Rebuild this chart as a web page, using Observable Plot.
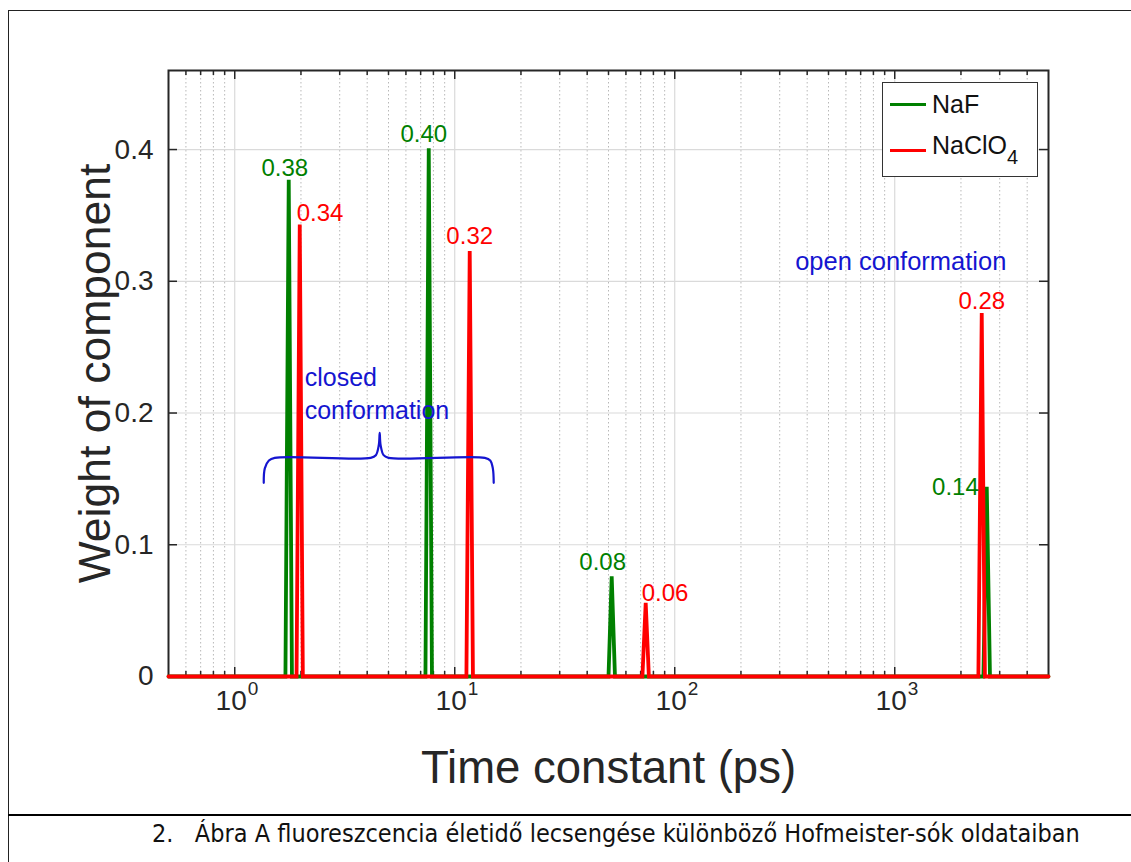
<!DOCTYPE html>
<html><head><meta charset="utf-8">
<script src="https://cdn.jsdelivr.net/npm/d3@7"></script>
<script src="https://cdn.jsdelivr.net/npm/@observablehq/plot@0.6"></script>
<style>
body{margin:0;background:#fff;width:1131px;height:862px;overflow:hidden;position:relative;font-family:"Liberation Sans",Arial,sans-serif;}
#chart{position:absolute;left:0;top:0;}
.rl{position:absolute;background:#222;}
#legend{position:absolute;left:882px;top:82px;width:156px;height:95px;border:1.5px solid #333;background:#fff;box-sizing:border-box;font-size:25px;color:#111;}
#legend .row{position:absolute;left:7px;height:30px;display:flex;align-items:center;}
#legend .sw{display:inline-block;width:36px;height:3px;margin-right:6px;}
#caption{position:absolute;top:816px;left:152px;font-family:"Liberation Sans Narrow","DejaVu Sans",sans-serif;font-stretch:condensed;font-size:25px;color:#111;white-space:pre;line-height:36px;}
</style></head>
<body>
<div id="chart"></div>
<div class="rl" style="left:8px;top:10px;width:1123px;height:1px"></div>
<div class="rl" style="left:8px;top:10px;width:1px;height:852px"></div>
<div class="rl" style="left:8px;top:814px;width:1123px;height:2px;background:#000"></div>
<div id="legend">
  <div class="row" style="top:6px"><span class="sw" style="background:#008000"></span><span>NaF</span></div>
  <div class="row" style="top:52px"><span class="sw" style="background:#ff0000"></span><span>NaClO<sub style="font-size:20px;vertical-align:-10px">4</sub></span></div>
</div>
<div id="caption">2.   Ábra A fluoreszcencia életidő lecsengése különböző Hofmeister-sók oldataiban</div>
<script>
// ---- data ----
const nafTau    = [0.5, 1.70, 1.76, 1.82, 7.36, 7.62, 7.88, 50.0, 51.7, 53.5, 2530, 2620, 2710, 5000];
const nafWeight = [0,   0,    0.377, 0,   0,    0.401, 0,   0,    0.076, 0,   0,    0.144, 0,    0];
const clo4Tau    = [0.5, 1.91, 1.975, 2.04, 11.3, 11.7, 12.1, 71.3, 73.8, 76.3, 2400, 2486, 2570, 5000];
const clo4Weight = [0,   0,    0.343, 0,    0,    0.323, 0,   0,    0.056, 0,   0,    0.276, 0,    0];

const peakSeries = ["NaF","NaF","NaF","NaF","NaClO4","NaClO4","NaClO4","NaClO4"];
const peakTau    = [1.76, 7.62, 51.7, 2620, 1.975, 11.7, 73.8, 2486];
const peakWeight = [0.377, 0.401, 0.076, 0.144, 0.343, 0.323, 0.056, 0.276];
const peakLabel  = ["0.38","0.40","0.08","0.14","0.34","0.32","0.06","0.28"];

const decadeTicks = [1, 10, 100, 1000];
const decadeExp   = ["0", "1", "2", "3"];
const minorTicks  = [0.6,0.7,0.8,0.9, 2,3,4,5,6,7,8,9, 20,30,40,50,60,70,80,90, 200,300,400,500,600,700,800,900, 2000,3000,4000];
const yTicks      = [0, 0.1, 0.2, 0.3, 0.4];
const yTickLabels = ["0", "0.1", "0.2", "0.3", "0.4"];

const braceTau    = [1.355, 1.37, 1.43, 1.52, 4.15, 4.38, 4.52, 4.56, 4.60, 4.75, 5.0, 13.7, 14.5, 14.9, 15.04];
const braceWeight = [0.147, 0.158, 0.164, 0.166, 0.166, 0.168, 0.176, 0.185, 0.176, 0.168, 0.166, 0.166, 0.164, 0.158, 0.147];

const closedNote = [{text: "closed", tau: 2.08, w: 0.2265}, {text: "conformation", tau: 2.08, w: 0.2015}];
const openNote   = [{text: "open conformation", tau: 1065, w: 0.315}];

// ---- styles ----
const colors = {NaF: "#008000", NaClO4: "#ff0000"};
const labelStyle = {
  "0.38": {dx: -4, dy: -4, anchor: "middle"},
  "0.40": {dx: -5, dy: -6, anchor: "middle"},
  "0.08": {dx: -9, dy: -6, anchor: "middle"},
  "0.14": {dx: -8, dy: 1, anchor: "end", line: "middle"},
  "0.34": {dx: -3, dy: -4, anchor: "start"},
  "0.32": {dx: 0, dy: -7, anchor: "middle"},
  "0.06": {dx: -4, dy: -2, anchor: "start"},
  "0.28": {dx: 0, dy: -4, anchor: "middle"}
};

const naf = nafTau.map((t, i) => ({series: "NaF", tau: t, w: nafWeight[i]}));
const clo4 = clo4Tau.map((t, i) => ({series: "NaClO4", tau: t, w: clo4Weight[i]}));
const peaks = peakTau.map((t, i) => ({series: peakSeries[i], tau: t, w: peakWeight[i], label: peakLabel[i]}));
const brace = braceTau.map((t, i) => ({tau: t, w: braceWeight[i]}));
const decades = decadeTicks.map((t, i) => ({tau: t, exp: decadeExp[i]}));
const yt = yTicks.map((v, i) => ({w: v, label: yTickLabels[i]}));

const W = 1131, H = 800, mL = 168, mR = 83, mT = 70, mB = 124;
const frameH = H - mT - mB, frameW = W - mL - mR;
const font = "Liberation Sans, Arial, sans-serif";
const blue = "#1515d0";

const peakLabelMarks = peaks.map(p => {
  const s = labelStyle[p.label];
  return Plot.text([p], {x: "tau", y: "w", text: "label", fill: colors[p.series], fontSize: 24,
    textAnchor: s.anchor, lineAnchor: s.line || "bottom", dx: s.dx, dy: s.dy});
});

const plot = Plot.plot({
  width: W, height: H,
  marginLeft: mL, marginRight: mR, marginTop: mT, marginBottom: mB,
  style: {fontFamily: font, background: "white", overflow: "visible"},
  x: {type: "log", domain: [0.5, 5000], axis: null},
  y: {domain: [0, 0.46], axis: null},
  marks: [
    // grid
    Plot.ruleX(minorTicks, {stroke: "#b8b8b8", strokeWidth: 1, strokeDasharray: "1.5,2.5"}),
    Plot.ruleX(decadeTicks, {stroke: "#dadada", strokeWidth: 1.2}),
    Plot.ruleY(yTicks, {stroke: "#dadada", strokeWidth: 1.2}),
    // ticks (inward)
    Plot.ruleX(minorTicks, {stroke: "#262626", strokeWidth: 1.5, insetTop: frameH - 5}),
    Plot.ruleX(minorTicks, {stroke: "#262626", strokeWidth: 1.5, insetBottom: frameH - 5}),
    Plot.ruleX(decadeTicks, {stroke: "#262626", strokeWidth: 1.5, insetTop: frameH - 9}),
    Plot.ruleX(decadeTicks, {stroke: "#262626", strokeWidth: 1.5, insetBottom: frameH - 9}),
    Plot.ruleY(yTicks, {stroke: "#262626", strokeWidth: 1.5, insetRight: frameW - 9}),
    Plot.ruleY(yTicks, {stroke: "#262626", strokeWidth: 1.5, insetLeft: frameW - 9}),
    // frame
    Plot.frame({stroke: "#262626", strokeWidth: 2}),
    // data
    Plot.line(naf, {x: "tau", y: "w", stroke: colors.NaF, strokeWidth: 3.8, strokeLinejoin: "miter", strokeMiterlimit: 3}),
    Plot.line(clo4, {x: "tau", y: "w", stroke: colors.NaClO4, strokeWidth: 3.8, strokeLinejoin: "miter", strokeMiterlimit: 3}),
    // value labels
    ...peakLabelMarks,
    // annotations
    Plot.line(brace, {x: "tau", y: "w", stroke: blue, strokeWidth: 2.2, curve: "catmull-rom"}),
    Plot.text(closedNote, {x: "tau", y: "w", text: "text", fill: blue, fontSize: 25, textAnchor: "start", lineAnchor: "middle"}),
    Plot.text(openNote, {x: "tau", y: "w", text: "text", fill: blue, fontSize: 25.5, textAnchor: "middle", lineAnchor: "middle"}),
    // tick labels
    Plot.text(decades, {x: "tau", text: () => "10", frameAnchor: "bottom", textAnchor: "end", dx: 12, dy: 25, fontSize: 28, fill: "#262626", lineAnchor: "middle"}),
    Plot.text(decades, {x: "tau", text: "exp", frameAnchor: "bottom", textAnchor: "start", dx: 13, dy: 12, fontSize: 19, fill: "#262626", lineAnchor: "middle"}),
    Plot.text(yt, {y: "w", text: "label", frameAnchor: "left", textAnchor: "end", dx: -15, fontSize: 28, fill: "#262626", lineAnchor: "middle"}),
    // axis titles
    Plot.text(["Time constant (ps)"], {text: d => d, frameAnchor: "bottom", textAnchor: "middle", dy: 92, fontSize: 45.5, fill: "#262626", lineAnchor: "middle"}),
    Plot.text(["Weight of component"], {text: d => d, frameAnchor: "left", textAnchor: "middle", dx: -73, rotate: -90, fontSize: 44.5, fill: "#262626", lineAnchor: "middle"})
  ]
});
document.getElementById("chart").appendChild(plot);
</script>
</body></html>
